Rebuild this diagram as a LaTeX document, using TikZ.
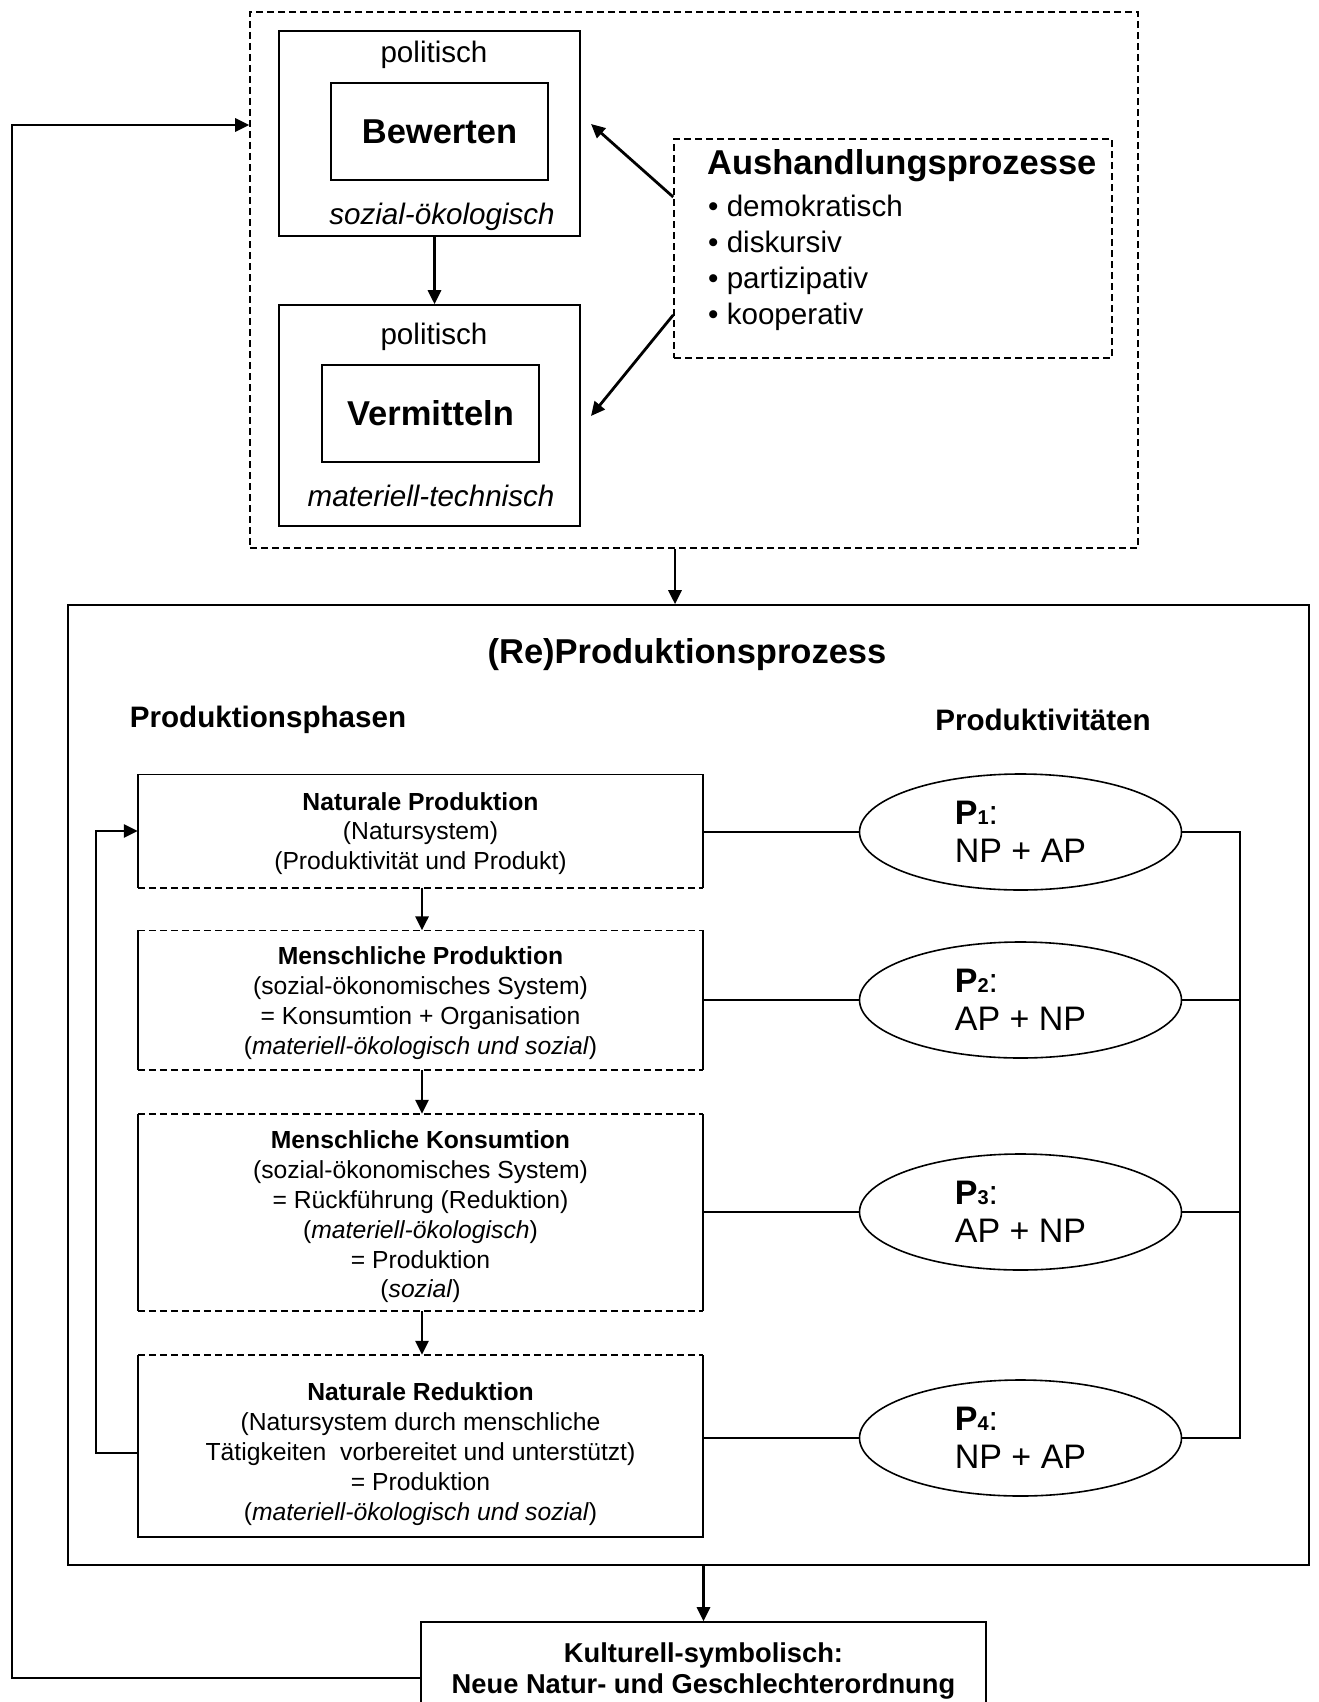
\documentclass[tikz,border=0pt]{standalone}
\usepackage{fontspec}
\setmainfont{Liberation Sans}
\usetikzlibrary{shapes.geometric,arrows.meta,calc}
\newcommand\fbig{\fontsize{34.5pt}{40pt}\selectfont}
\newcommand\fmid{\fontsize{29.6pt}{35pt}\selectfont}
\newcommand\fsml{\fontsize{24.7pt}{29.8pt}\selectfont}
\newcommand\fkul{\fontsize{27.3pt}{31pt}\selectfont}
\newcommand\fell{\fontsize{34pt}{38.5pt}\selectfont}
\newcommand\subn[1]{{\fontsize{20pt}{20pt}\selectfont\bfseries #1}}
\begin{document}
\begin{tikzpicture}[x=1pt,y=-1pt,
  box/.style={draw, line width=1.6pt, inner sep=0pt},
  dsh/.style={dash pattern=on 7pt off 4pt},
  dbox/.style={box, dsh},
  thinln/.style={line width=1.6pt},
  arr/.style={-{Triangle[length=14pt,width=13pt]}, line width=2.8pt},
  txt/.style={inner sep=0pt},
  ell/.style={ellipse, draw, line width=1.6pt, minimum width=322pt, minimum height=116pt, inner sep=0pt, align=left, font=\fell},
  phbox/.style={minimum width=565pt, inner sep=0pt},
  phtxt/.style={inner sep=0pt, align=center, font=\fsml}]
\useasboundingbox (0,0) rectangle (1318,1702);
\clip (0,0) rectangle (1318,1702);
\fill[white] (0,0) rectangle (1318,1702);

% upper part
\node[dbox, minimum width=888pt, minimum height=536pt] (outer) at (694,280) {};
\node[box, minimum width=301pt, minimum height=205pt] (bew) at (429.5,133.5) {};
\node[box, minimum width=217pt, minimum height=97pt, font=\fbig\bfseries] (bewin) at (439.5,131.5) {Bewerten};
\node[txt, font=\fmid] (bewpol) at (434,55) {politisch};
\node[txt, font=\fmid\itshape] (bewsoz) at (442,217) {sozial-ökologisch};

\node[box, minimum width=301pt, minimum height=221pt] (verm) at (429.5,415.5) {};
\node[box, minimum width=217pt, minimum height=97pt, font=\fbig\bfseries] (vermin) at (430.5,413.5) {Vermitteln};
\node[txt, font=\fmid] (vermpol) at (434,337) {politisch};
\node[txt, font=\fmid\itshape] (vermmat) at (431,496) {materiell-technisch};

\draw[arr] ([xshift=5pt]bew.south) -- ([xshift=5pt]verm.north);

\node[dbox, minimum width=438pt, minimum height=219pt] (aush) at (893,248.5) {};
\node[txt, anchor=base west, font=\fbig\bfseries] (ahtitle) at (707,174) {Aushandlungsprozesse};
\node[txt, anchor=base west, font=\fmid] (ah1) at (708,216) {• demokratisch};
\node[txt, anchor=base west, font=\fmid] (ah2) at (708,252) {• diskursiv};
\node[txt, anchor=base west, font=\fmid] (ah3) at (708,288) {• partizipativ};
\node[txt, anchor=base west, font=\fmid] (ah4) at (708,324) {• kooperativ};

\coordinate (ya1) at (0,197);
\coordinate (ya2) at (0,315);
\coordinate (bewtip) at (591,124);
\coordinate (vermtip) at (591,416);
\draw[arr] (aush.west |- ya1) -- (bewtip);
\draw[arr] (aush.west |- ya2) -- (vermtip);

% main process box
\node[box, minimum width=1241pt, minimum height=960pt] (big) at (688.5,1085) {};
\coordinate (c675) at (675,0);
\draw[arr] (outer.south -| c675) -- (big.north -| c675);

\node[txt, font=\fbig\bfseries] (rp) at (687,655) {(Re)Produktionsprozess};
\node[txt, font=\fmid\bfseries] (phasen) at (268,720) {Produktionsphasen};
\node[txt, font=\fmid\bfseries] (prodv) at (1043,720) {Produktivitäten};

% phase boxes
\node[phbox, minimum height=113pt] (ph1) at (420.5,831) {};
\node[phbox, minimum height=139.4pt] (ph2) at (420.5,1000.3) {};
\node[phbox, minimum height=197pt] (ph3) at (420.5,1212.5) {};
\node[phbox, minimum height=182pt] (ph4) at (420.5,1446) {};

\draw[thinln] (ph1.south west) -- (ph1.north west) -- (ph1.north east) -- (ph1.south east);
\draw[thinln, dsh] (ph1.south west) -- (ph1.south east);
\draw[thinln] (ph2.south west) -- (ph2.north west) (ph2.north east) -- (ph2.south east);
\draw[thinln, dsh] (ph2.north west) -- (ph2.north east) (ph2.south west) -- (ph2.south east);
\draw[thinln] (ph3.south west) -- (ph3.north west) (ph3.north east) -- (ph3.south east);
\draw[thinln, dsh] (ph3.north west) -- (ph3.north east) (ph3.south west) -- (ph3.south east);
\draw[thinln] (ph4.north west) -- (ph4.south west) -- (ph4.south east) -- (ph4.north east);
\draw[thinln, dsh] (ph4.north west) -- (ph4.north east);

\node[phtxt] (ph1t) at (420.5,833.5) {\textbf{Naturale Produktion}\\(Natursystem)\\(Produktivität und Produkt)};
\node[phtxt] (ph2t) at (420.5,1003) {\textbf{Menschliche Produktion}\\(sozial-ökonomisches System)\\= Konsumtion + Organisation\\(\textit{materiell-ökologisch und sozial})};
\node[phtxt] (ph3t) at (420.5,1217) {\textbf{Menschliche Konsumtion}\\(sozial-ökonomisches System)\\= Rückführung (Reduktion)\\(\textit{materiell-ökologisch})\\= Produktion\\(\textit{sozial})};
\node[phtxt] (ph4t) at (420.5,1454) {\textbf{Naturale Reduktion}\\(Natursystem durch menschliche\\Tätigkeiten\ \ vorbereitet und unterstützt)\\= Produktion\\(\textit{materiell-ökologisch und sozial})};

\coordinate (cx422) at (422,0);
\draw[arr] (ph1.south -| cx422) -- (ph2.north -| cx422);
\draw[arr] (ph2.south -| cx422) -- (ph3.north -| cx422);
\draw[arr] (ph3.south -| cx422) -- (ph4.north -| cx422);

% ellipses
\node[ell] (e1) at (1020.5,832) {\textbf{P}\subn{1}:\\NP + AP};
\node[ell] (e2) at (1020.5,1000) {\textbf{P}\subn{2}:\\AP + NP};
\node[ell] (e3) at (1020.5,1212) {\textbf{P}\subn{3}:\\AP + NP};
\node[ell] (e4) at (1020.5,1438) {\textbf{P}\subn{4}:\\NP + AP};

\draw[thinln] (ph1.east |- e1.west) -- (e1.west);
\draw[thinln] (ph2.east |- e2.west) -- (e2.west);
\draw[thinln] (ph3.east |- e3.west) -- (e3.west);
\draw[thinln] (ph4.east |- e4.west) -- (e4.west);

\coordinate (bx) at (1240,0);
\draw[thinln] (e1.east) -- (e1.east -| bx) -- (e4.east -| bx) -- (e4.east);
\draw[thinln] (e2.east) -- (e2.east -| bx);
\draw[thinln] (e3.east) -- (e3.east -| bx);

% left feedback
\coordinate (fx) at (96,0);
\draw[arr] ([yshift=-7pt]ph4.west) -- ([yshift=-7pt]ph4.west -| fx) -- (ph1.west -| fx) -- (ph1.west);

% bottom box
\node[box, minimum width=565pt, minimum height=96pt] (kult) at (703.5,1670) {};
\node[txt, font=\fkul\bfseries, align=center] (kultt) at (703.5,1671) {Kulturell-symbolisch:\\Neue Natur- und Geschlechterordnung};
\draw[arr] (big.south -| kult.north) -- (kult.north);

\coordinate (lx) at (12,0);
\coordinate (ty) at (0,125);
\coordinate (ky) at (0,1678);
\draw[arr] (kult.west |- ky) -- (lx |- ky) -- (lx |- ty) -- (outer.west |- ty);
\end{tikzpicture}
\end{document}
